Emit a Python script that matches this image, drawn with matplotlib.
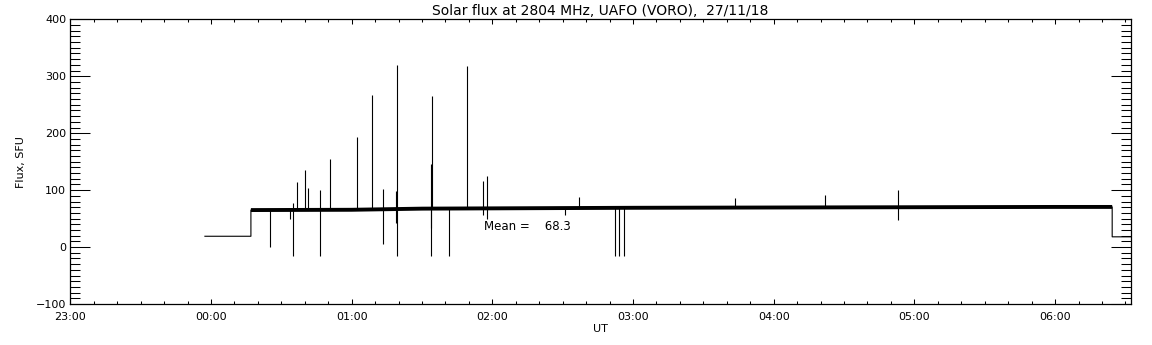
import matplotlib
matplotlib.use("Agg")
import matplotlib.pyplot as plt
from matplotlib.ticker import MultipleLocator, FixedLocator

# ---- data (time in hours relative to 00:00 UT, flux in SFU) ----
base_t = [-0.043, 0.284, 0.284, 1.0, 1.5, 2.0, 3.0, 4.0, 5.0, 6.0, 6.406, 6.406, 6.54]
base_v = [19.0, 19.0, 65.0, 65.5, 67.5, 68.0, 69.0, 69.5, 70.0, 70.5, 70.5, 18.0, 18.0]
# indices of the noisy observing segment (thick band)
obs_start, obs_end = 2, 11

spike_t  = [0.419, 0.561, 0.583, 0.611, 0.668, 0.689, 0.775, 0.846, 1.038, 1.144,
            1.222, 1.313, 1.325, 1.561, 1.565, 1.571, 1.692, 1.819, 1.933, 1.962,
            2.514, 2.615, 2.869, 2.898, 2.934, 3.727, 4.364, 4.881]
spike_hi = [66, 65, 77, 115, 135, 104, 100, 154, 193, 267,
            102, 98, 319, 66, 146, 265, 66, 318, 116, 125,
            68, 88, 68, 68, 68, 86, 91, 100]
spike_lo = [0, 49, -15, 65, 65, 65, -15, 65, 65, 66,
            6, 42, -15, -15, 33, 67, -15, 67, 56, 50,
            56, 68, -16, -16, -16, 69, 69, 47]

tick_hours = [-1, 0, 1, 2, 3, 4, 5, 6]
tick_labels = ["23:00", "00:00", "01:00", "02:00", "03:00", "04:00", "05:00", "06:00"]
mean_value = 68.3
title = "Solar flux at 2804 MHz, UAFO (VORO),  27/11/18"

# ---- figure ----
fig = plt.figure(figsize=(11.52, 3.45), dpi=100)
ax = fig.add_axes([0.061, 0.1188, 0.9208, 0.8252])

ax.plot(base_t, base_v, color="black", lw=0.8)
ax.plot(base_t[obs_start:obs_end], base_v[obs_start:obs_end], color="black", lw=2.8,
        solid_capstyle="butt")
ax.vlines(spike_t, spike_lo, spike_hi, color="black", lw=0.8)

ax.text(1.94, 35.6, f"Mean =    {mean_value:.1f}", fontsize=8.5, ha="left", va="center")

ax.set_xlim(-1, 6.54)
ax.set_ylim(-100, 400)
ax.xaxis.set_major_locator(FixedLocator(tick_hours))
ax.set_xticklabels(tick_labels)
ax.xaxis.set_minor_locator(MultipleLocator(1 / 6))
ax.yaxis.set_major_locator(MultipleLocator(100))
ax.yaxis.set_minor_locator(MultipleLocator(10))

ax.tick_params(axis="both", which="both", direction="in", top=True, right=True,
               width=0.75, labelsize=8, color="black")
ax.tick_params(axis="x", which="major", length=3.6, pad=6)
ax.tick_params(axis="x", which="minor", length=2.2)
ax.tick_params(axis="y", which="major", length=14.4, pad=3)
ax.tick_params(axis="y", which="minor", length=7.2)
for s in ax.spines.values():
    s.set_linewidth(0.9)

ax.set_title(title, fontsize=10, pad=3)
ax.set_xlabel("UT", fontsize=8)
ax.set_ylabel("Flux, SFU", fontsize=8)
ax.xaxis.set_label_coords(0.5, -0.070)
ax.yaxis.set_label_coords(-0.0418, 0.5)

fig.savefig("out.png", dpi=100, facecolor="white")
